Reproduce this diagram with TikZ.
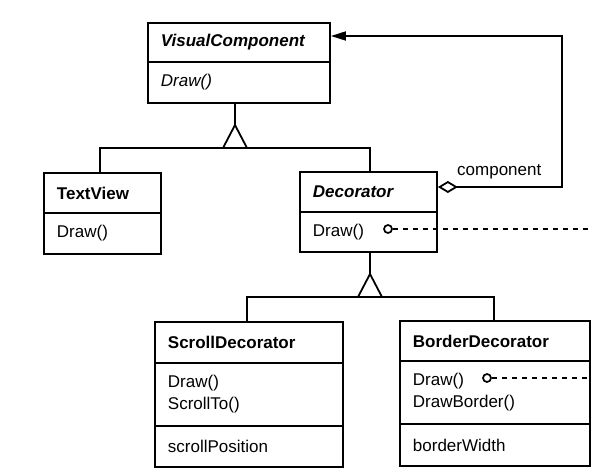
\documentclass[tikz,border=0pt]{standalone}
\usepackage{fontspec}
\setmainfont{Liberation Sans}
\usetikzlibrary{arrows.meta}
\begin{document}
\begin{tikzpicture}[x=1pt,y=-1pt,
  box/.style={draw, line width=1.9pt, anchor=north west, inner xsep=13pt, inner ysep=0pt,
    align=left, font=\fontsize{17}{22}\selectfont},
  conn/.style={line width=1.8pt},
  dashconn/.style={line width=1.7pt, dash pattern=on 5pt off 5pt},
  dot/.style={circle, draw, line width=1.7pt, fill=white, minimum size=8pt, inner sep=0pt},
  lbl/.style={font=\fontsize{17}{20}\selectfont, inner sep=0pt}]
\useasboundingbox (0,0) rectangle (610,476);

% VisualComponent
\node[box, minimum width=182pt, text width=156pt, minimum height=39pt] (vc) at (147,22) {\bfseries\itshape VisualComponent};
\node[box, minimum width=182pt, text width=156pt, minimum height=41pt] (vcops) at (147,61) {\itshape Draw()};

% TextView
\node[box, minimum width=117pt, text width=91pt, minimum height=40pt] (tv) at (43,172) {\bfseries TextView};
\node[box, minimum width=117pt, text width=91pt, minimum height=41pt] (tvops) at (43,212) {Draw()};

% Decorator
\node[box, minimum width=137pt, text width=111pt, minimum height=40pt] (dec) at (299,171) {\bfseries\itshape Decorator};
\node[box, minimum width=137pt, text width=111pt, minimum height=40pt] (decops) at (299,211) {Draw()};

% ScrollDecorator
\node[box, minimum width=188pt, text width=162pt, minimum height=41pt] (sd) at (154,321) {\bfseries ScrollDecorator};
\node[box, minimum width=188pt, text width=162pt, minimum height=63pt] (sdops) at (154,362) {Draw()\\ScrollTo()};
\node[box, minimum width=188pt, text width=162pt, minimum height=41pt] (sdattr) at (154,425) {scrollPosition};

% BorderDecorator
\node[box, minimum width=190pt, text width=164pt, minimum height=40pt] (bd) at (399,320) {\bfseries BorderDecorator};
\node[box, minimum width=190pt, text width=164pt, minimum height=63pt] (bdops) at (399,360) {Draw()\\DrawBorder()};
\node[box, minimum width=190pt, text width=164pt, minimum height=42pt] (bdattr) at (399,423) {borderWidth};

% inheritance 1
\coordinate (a1) at (235,125);
\coordinate (h1) at (100,148);
\coordinate (h1r) at (370,148);
\draw[conn] (vcops.south -| a1) -- (a1);
\draw[conn] (tv.north -| h1) -- (h1) -- (h1r) -- (dec.north -| h1r);
\draw[conn, fill=white, line join=miter] (a1) -- (223,148) -- (247,148) -- cycle;

% inheritance 2
\coordinate (a2) at (370,274);
\coordinate (h2) at (247,297);
\coordinate (h2r) at (494,297);
\draw[conn] (decops.south -| a2) -- (a2);
\draw[conn] (sd.north -| h2) -- (h2) -- (h2r) -- (bd.north -| h2r);
\draw[conn, fill=white, line join=miter] (a2) -- (358,297) -- (382,297) -- cycle;

% aggregation
\coordinate (ag) at (436,187);
\coordinate (c1) at (562,187);
\coordinate (c2) at (562,36);
\draw[conn, {Diamond[open, length=20pt, width=12pt, line width=1.8pt]}-{Triangle[length=15pt, width=9pt]}]
  (dec.east |- ag) -- (c1) -- (c2) -- (vc.east |- c2);
\node[lbl, anchor=west] (comp) at (457,172) {component};

% implementation notes
\node[dot] (n1) at (388,229) {};
\coordinate (n1e) at (592,229);
\draw[dashconn] (n1) -- (n1e);
\node[dot] (n2) at (487,378) {};
\coordinate (n2e) at (587,378);
\draw[dashconn] (n2) -- (n2e);
\end{tikzpicture}
\end{document}
